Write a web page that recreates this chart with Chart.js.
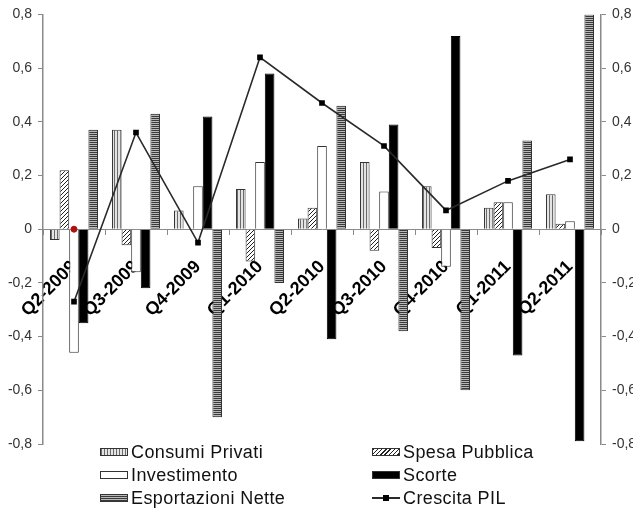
<!DOCTYPE html>
<html>
<head>
<meta charset="utf-8">
<script src="https://cdn.jsdelivr.net/npm/chart.js@4/dist/chart.umd.min.js"></script>
<style>
  html, body { margin: 0; padding: 0; background: #fff; }
  #wrap { position: relative; width: 633px; height: 510px; }
  #legend { position: absolute; left: 0; top: 0; font-family: "Liberation Sans", Arial, sans-serif; font-size: 18px; color: #111; }
  .item { position: absolute; height: 22px; line-height: 22px; white-space: nowrap; }
  .box { position: absolute; left: 0; top: 7px; width: 28px; height: 8px; box-sizing: border-box; border: 1px solid #333; }
  .lbl { position: absolute; left: 31px; top: 0; letter-spacing: 0.4px; }
</style>
</head>
<body>
<div id="wrap">
  <canvas id="myChart" width="633" height="510"></canvas>
  <div id="legend"></div>
</div>
<script>
const quarters = ['Q2-2009', 'Q3-2009', 'Q4-2009', 'Q1-2010', 'Q2-2010', 'Q3-2010', 'Q4-2010', 'Q1-2011', 'Q2-2011'];
const consumiPrivati = [-0.04, 0.37, 0.07, 0.15, 0.04, 0.25, 0.16, 0.08, 0.13];
const spesaPubblica = [0.22, -0.06, 0, -0.12, 0.08, -0.08, -0.07, 0.10, 0.02];
const investimento = [-0.46, -0.16, 0.16, 0.25, 0.31, 0.14, -0.14, 0.10, 0.03];
const scorte = [-0.35, -0.22, 0.42, 0.58, -0.41, 0.39, 0.72, -0.47, -0.79];
const esportazioniNette = [0.37, 0.43, -0.70, -0.20, 0.46, -0.38, -0.60, 0.33, 0.80];
const crescitaPIL = [-0.27, 0.36, -0.05, 0.64, 0.47, 0.31, 0.07, 0.18, 0.26];
const redMark = [0, null, null, null, null, null, null, null, null];
const yTicks = [-0.8, -0.6, -0.4, -0.2, 0, 0.2, 0.4, 0.6, 0.8];

function makePattern(w, h, draw) {
    const c = document.createElement('canvas');
    c.width = w; c.height = h;
    const g = c.getContext('2d');
    draw(g);
    return document.getElementById('myChart').getContext('2d').createPattern(c, 'repeat');
}

const vStripes = makePattern(3, 1, g => {
    g.fillStyle = '#e4e4e4'; g.fillRect(0, 0, 3, 1);
    g.fillStyle = '#6a6a6a'; g.fillRect(0, 0, 1, 1);
});
const hStripes = makePattern(1, 2, g => {
    g.fillStyle = '#b8b8b8'; g.fillRect(0, 0, 1, 2);
    g.fillStyle = '#3a3a3a'; g.fillRect(0, 0, 1, 1);
});
const diag = makePattern(4, 4, g => {
    g.fillStyle = '#fff'; g.fillRect(0, 0, 4, 4);
    g.fillStyle = '#222';
    for (let i = 0; i < 4; i++) g.fillRect(3 - i, i, 1, 1);
});

const fmt = v => Math.abs(v) < 1e-9 ? '0' : v.toFixed(1).replace('.', ',');
const gray = '#8a8a8a';

const yAxis = (pos, w) => ({
    type: 'linear',
    position: pos,
    min: -0.8,
    max: 0.8,
    afterBuildTicks: s => { s.ticks = yTicks.map(v => ({ value: v })); },
    afterFit: s => { s.width = w; },
    grid: { drawOnChartArea: false, drawTicks: true, tickLength: 5, color: gray },
    border: { display: true, color: gray, width: 1.5 },
    ticks: { callback: fmt, color: '#333', padding: 6, font: { family: 'Liberation Sans', size: 14 } }
});

const barBase = { type: 'bar', yAxisID: 'y', order: 2, borderColor: '#333', borderWidth: 1, categoryPercentage: 0.775, barPercentage: 1 };

const ctx = document.getElementById('myChart').getContext('2d');
const myChart = new Chart(ctx, {
    data: {
        labels: quarters,
        datasets: [
            { ...barBase, label: 'Consumi Privati', data: consumiPrivati, backgroundColor: vStripes },
            { ...barBase, label: 'Spesa Pubblica', data: spesaPubblica, backgroundColor: diag },
            { ...barBase, label: 'Investimento', data: investimento, backgroundColor: '#fff' },
            { ...barBase, label: 'Scorte', data: scorte, backgroundColor: '#000', borderColor: '#000' },
            { ...barBase, label: 'Esportazioni Nette', data: esportazioniNette, backgroundColor: hStripes },
            {
                type: 'line', label: 'Crescita PIL', data: crescitaPIL, yAxisID: 'y', order: 0,
                borderColor: '#2a2a2a', borderWidth: 1.6, backgroundColor: '#000',
                pointStyle: 'rect', pointRadius: 4, pointBorderWidth: 0, tension: 0
            },
            {
                type: 'line', label: '', data: redMark, yAxisID: 'y', order: 0, showLine: false,
                pointRadius: 3, backgroundColor: '#b01010', borderColor: '#b01010'
            }
        ]
    },
    options: {
        responsive: false,
        animation: false,
        layout: { padding: { top: 7, bottom: 66, left: 0, right: 0 } },
        plugins: { legend: { display: false }, tooltip: { enabled: false } },
        scales: {
            x: {
                type: 'category',
                position: { y: 0 },
                offset: true,
                afterFit: s => { s.paddingLeft = 0; s.paddingRight = 0; s.paddingTop = 0; s.paddingBottom = 0; },
                grid: { offset: true, drawOnChartArea: false, drawTicks: true, tickLength: 5, color: gray },
                border: { display: true, color: gray, width: 1 },
                ticks: {
                    color: '#000', minRotation: 45, maxRotation: 45, padding: 22, autoSkip: false,
                    font: { family: 'Liberation Sans', size: 18, weight: 'bold' }
                }
            },
            y: yAxis('left', 43),
            y2: yAxis('right', 32)
        }
    }
});

// legend, two columns like the original
const legendItems = [
    ['Consumi Privati', 'repeating-linear-gradient(90deg, #6a6a6a 0 1px, #e4e4e4 1px 3px)'],
    ['Spesa Pubblica', 'repeating-linear-gradient(135deg, #222 0 1px, #fff 1px 3px)'],
    ['Investimento', '#fff'],
    ['Scorte', '#000'],
    ['Esportazioni Nette', 'repeating-linear-gradient(0deg, #3a3a3a 0 1px, #b8b8b8 1px 2px)'],
    ['Crescita PIL', null]
];
const legend = document.getElementById('legend');
legendItems.forEach((it, i) => {
    const d = document.createElement('div');
    d.className = 'item';
    d.style.left = (i % 2 === 0 ? 100 : 372) + 'px';
    d.style.top = (441 + Math.floor(i / 2) * 23) + 'px';
    let box;
    if (it[1]) {
        box = '<span class="box" style="background:' + it[1] + '"></span>';
    } else {
        box = '<span style="position:absolute;left:0;top:10px;width:28px;height:2px;background:#2a2a2a"></span>' +
              '<span style="position:absolute;left:11px;top:8px;width:6px;height:6px;background:#000"></span>';
    }
    d.innerHTML = box + '<span class="lbl">' + it[0] + '</span>';
    legend.appendChild(d);
});
</script>
</body>
</html>
